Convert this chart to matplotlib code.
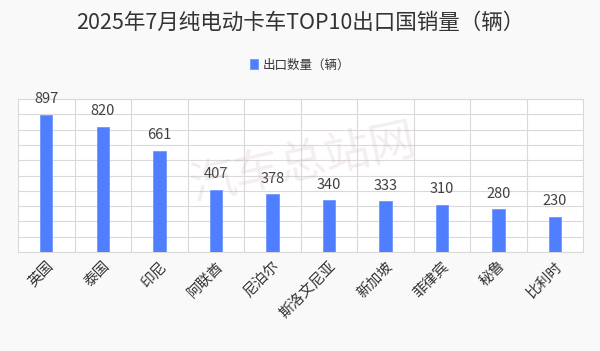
import matplotlib.pyplot as plt

plt.rcParams['font.family'] = ['Noto Sans CJK SC', 'DejaVu Sans']

countries = ["英国", "泰国", "印尼", "阿联酋", "尼泊尔", "斯洛文尼亚", "新加坡", "菲律宾", "秘鲁", "比利时"]
exports = [897, 820, 661, 407, 378, 340, 333, 310, 280, 230]

fig = plt.figure(figsize=(6, 3.51), dpi=100, facecolor='#f9f9f9')
ax = fig.add_axes([0.03, 0.282, 0.942, 0.436])
ax.set_facecolor('white')

x = range(len(countries))
ax.bar(x, exports, width=0.22, color='#4f7ffe', edgecolor='#6f97ff', linewidth=0.6,
       label='出口数量（辆）', zorder=3)
for xi, v in zip(x, exports):
    ax.text(xi, v + 55, str(v), ha='center', va='bottom', fontsize=10.5, color='#404040', zorder=4)

ax.set_xlim(-0.5, len(countries) - 0.5)
ax.set_ylim(0, 1000)
ax.set_yticks(range(0, 1001, 100))
ax.set_yticklabels([])
# category boundaries as vertical grid lines, names on minor ticks
ax.set_xticks([i + 0.5 for i in range(len(countries) - 1)])
ax.set_xticklabels([])
ax.set_xticks(list(x), minor=True)
ax.set_xticklabels(countries, minor=True, rotation=45, ha='right', rotation_mode='anchor',
                   fontsize=10.5, color='#333333')
ax.tick_params(axis='both', which='both', length=0)
ax.tick_params(axis='x', which='minor', pad=5)
ax.grid(True, which='major', color='#d9d9d9', linewidth=0.8, zorder=0)
for s in ax.spines.values():
    s.set_color('#d9d9d9')
    s.set_linewidth(0.8)

fig.text(0.5, 0.935, '2025年7月纯电动卡车TOP10出口国销量（辆）', ha='center', va='center',
         fontsize=15.5, color='#333333')
ax.legend(loc='center', bbox_to_anchor=(0.5, 0.815), bbox_transform=fig.transFigure,
          frameon=False, fontsize=9, handlelength=0.6, handleheight=0.9, handletextpad=0.4,
          labelcolor='#333333')

# watermark
fig.text(0.505, 0.535, '汽车总站网', ha='center', va='center', fontsize=33, rotation=12,
         color='#caa9a9', alpha=0.2)

fig.savefig('out.png', dpi=100, facecolor=fig.get_facecolor())
